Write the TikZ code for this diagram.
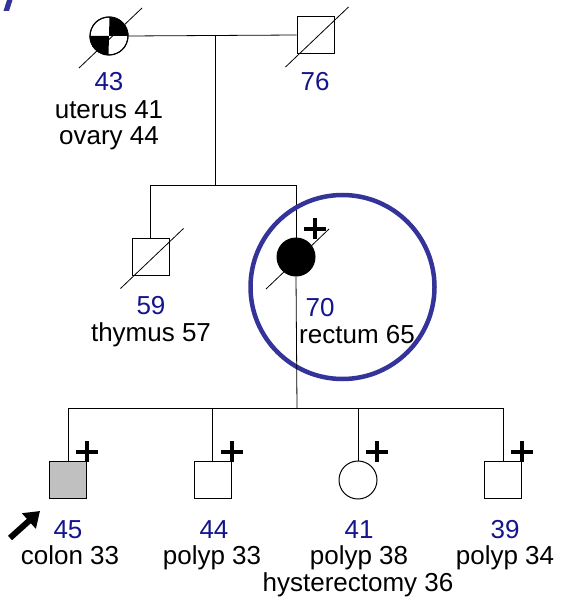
\documentclass[tikz,border=0pt]{standalone}
\usepackage{fontspec}
\setmainfont{Liberation Sans}
\usepackage{tikz}
\usetikzlibrary{arrows.meta}
\usetikzlibrary{calc}
\usepackage{xcolor}

\definecolor{agecol}{RGB}{20,20,140}
\definecolor{ringcol}{RGB}{51,51,153}
\definecolor{affgray}{RGB}{192,192,192}

% slash through a deceased person, plus sign for a carrier
\newcommand{\deadslash}[1]{\draw[line width=0.8pt] ($(#1)+(-30,32)$) -- ($(#1)+(33,-28)$);}
\newcommand{\plusmark}[1]{\draw[line width=4pt] ($(#1)+(8,-28)$) -- ($(#1)+(30,-28)$)
		($(#1)+(19,-39)$) -- ($(#1)+(19,-18)$);}

\begin{document}
\begin{tikzpicture}[x=1pt,y=-1pt,>=Stealth,
		male/.style={draw,rectangle,minimum size=37pt,inner sep=0pt,line width=1pt,fill=white},
		female/.style={draw,circle,minimum size=38pt,inner sep=0pt,line width=1pt,fill=white},
		agetxt/.style={text=agecol,anchor=base,inner sep=0pt,font=\fontsize{26}{30}\selectfont},
		note/.style={anchor=base,inner sep=0pt,font=\fontsize{26}{30}\selectfont},
		line/.style={line width=0.8pt}]
		
		\useasboundingbox (0,0) rectangle (561,604);
		
		% cut-off mark in the corner
		\fill[ringcol] (7,0) -- (12.5,0) -- (9,11) -- (3.5,11) -- cycle;
		
		% Generation I
		\node[female] (gm) at (109,36) {};
		\fill (gm.center) -- (gm.east) arc[start angle=0,end angle=90,radius=19pt] -- cycle;
		\fill (gm.center) -- (gm.west) arc[start angle=180,end angle=270,radius=19pt] -- cycle;
		\draw[line width=1pt] (gm.center) circle[radius=19pt];
		\node[male] (gp) at (315.5,35) {};
		\deadslash{gm}
		\deadslash{gp}
		
		\node[agetxt] (gm-age) at (109,91) {43};
		\node[note] (gm-n1) at (109,119) {uterus 41};
		\node[note] (gm-n2) at (109,145) {ovary 44};
		\node[agetxt] (gp-age) at (315,91) {76};
		
		\coordinate (mate1) at (215,35);
		\coordinate (sib1) at (215,185);
		\draw[line] (gm.east) -- (gp.west);
		\draw[line] (mate1) -- (sib1);
		
		% Generation II
		\node[male] (son) at (150.5,256.5) {};
		\node[female,fill=black] (mo) at (296,257) {};
		\deadslash{son}
		\deadslash{mo}
		\plusmark{mo}
		
		\coordinate (sibL) at (son.north |- sib1);
		\coordinate (sibR) at (mo.north |- sib1);
		\draw[line] (sibL) -- (sibR);
		\draw[line] (sibL) -- (son.north);
		\draw[line] (sibR) -- (mo.north);
		
		\node[agetxt] (son-age) at (151,314) {59};
		\node[note] (son-n1) at (151,341) {thymus 57};
		\node[agetxt] (mo-age) at (320,316) {70};
		\node[note] (mo-n1) at (357,343) {rectum 65};
		
		% highlight ring
		\node[draw=ringcol,circle,line width=4.5pt,minimum size=184pt,inner sep=0pt] (ring) at (342.5,287) {};
		
		% Generation III
		\node[male,fill=affgray] (c1) at (68,480) {};
		\node[male] (c2) at (212.5,480) {};
		\node[female] (c3) at (358,480) {};
		\node[male] (c4) at (503,480) {};
		\foreach \c in {c1,c2,c3,c4}
			\plusmark{\c};
		
		\coordinate (sib2) at (297,408);
		\coordinate (sib2L) at (c1.north |- sib2);
		\coordinate (sib2R) at (c4.north |- sib2);
		\draw[line] (mo.south) -- (sib2);
		\draw[line] (sib2L) -- (sib2R);
		\foreach \c in {c1,c2,c3,c4}
			\draw[line] (\c.north |- sib2) -- (\c.north);
		
		% proband arrow
		\coordinate (pb-tail) at (10,538);
		\coordinate (pb-tip) at (40,511);
		\draw[line width=6pt,-{Triangle[length=15pt,width=20pt]}] (pb-tail) -- (pb-tip);
		
		\node[agetxt] (c1-age) at (68,538) {45};
		\node[note] (c1-n1) at (70,564) {colon 33};
		\node[agetxt] (c2-age) at (214,538) {44};
		\node[note] (c2-n1) at (212,564) {polyp 33};
		\node[agetxt] (c3-age) at (359,538) {41};
		\node[note] (c3-n1) at (359,564) {polyp 38};
		\node[note] (c3-n2) at (358,591) {hysterectomy 36};
		\node[agetxt] (c4-age) at (505,538) {39};
		\node[note] (c4-n1) at (505,564) {polyp 34};
		
	\end{tikzpicture}
\end{document}
